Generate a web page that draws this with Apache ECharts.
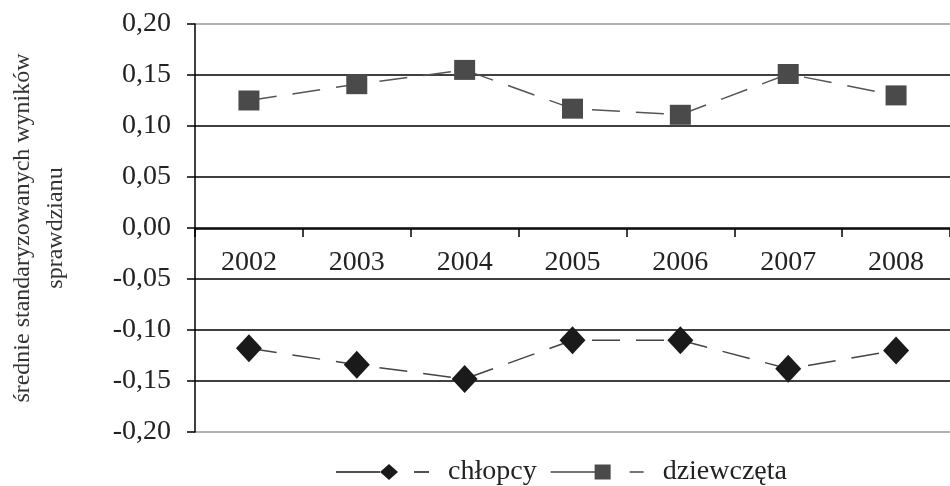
<!DOCTYPE html>
<html>
<head>
<meta charset="utf-8">
<script src="https://cdn.jsdelivr.net/npm/echarts@6/dist/echarts.min.js"></script>
<style>html,body{margin:0;padding:0;background:#fff}#c{width:950px;height:486px}</style>
</head>
<body>
<div id="c"></div>
<script>
const years = ['2002','2003','2004','2005','2006','2007','2008'];
const chlopcy = [-0.118, -0.134, -0.148, -0.110, -0.110, -0.138, -0.120];
const dziewczeta = [0.125, 0.141, 0.155, 0.117, 0.111, 0.151, 0.130];
const seriesNames = ['chłopcy', 'dziewczęta'];
const yTitle = 'średnie standaryzowanych wyników\nsprawdzianu';

const font = '"Liberation Serif", "DejaVu Serif", serif';
const iconDiamond = 'path://M0 7.3H44V8.7H0Z M44 8L53 0L62 8L53 16Z M78 7.3H93V8.7H78Z';
const iconSquare = 'path://M0 7.3H44V8.7H0Z M44 0.5H60V15.5H44Z M79 7.3H93V8.7H79Z';

const chart = echarts.init(document.getElementById('c'));
chart.setOption({
  animation: false,
  backgroundColor: '#fff',
  grid: { left: 195, right: 0, top: 24, bottom: 54, containLabel: false, outerBoundsMode: 'none' },
  legend: {
    top: 453,
    left: 331,
    itemWidth: 93,
    itemHeight: 16,
    itemGap: 14,
    textStyle: { fontFamily: font, fontSize: 28, color: '#222', padding: [0, 0, 0, 14] },
    data: [
      { name: seriesNames[0], icon: iconDiamond, itemStyle: { color: '#1a1a1a' } },
      { name: seriesNames[1], icon: iconSquare, itemStyle: { color: '#4a4a4a' } }
    ]
  },
  xAxis: {
    type: 'category',
    data: years,
    boundaryGap: true,
    position: 'bottom',
    offset: -203,
    axisLine: { onZero: false, lineStyle: { color: '#000', width: 1.5 } },
    axisTick: { show: true, inside: false, length: 8, alignWithLabel: false, lineStyle: { color: '#000', width: 1.5 } },
    axisLabel: { fontFamily: font, fontSize: 28, color: '#222', margin: 20 }
  },
  yAxis: {
    type: 'value',
    min: -0.2, max: 0.2, interval: 0.05,
    name: yTitle,
    nameLocation: 'middle',
    nameRotate: 90,
    nameGap: 123,
    nameTextStyle: { fontFamily: font, fontSize: 24, color: '#333', lineHeight: 33, align: 'center' },
    axisLine: { show: true, lineStyle: { color: '#000', width: 1.5 } },
    axisTick: { show: true, length: 8, lineStyle: { color: '#000', width: 1.5 } },
    axisLabel: {
      fontFamily: font, fontSize: 28, color: '#222', margin: 24,
      formatter: v => v.toFixed(2).replace('.', ',')
    },
    splitLine: { show: true, lineStyle: { width: 1.5, color: ['#999','#000','#000','#000','#000','#000','#000','#000','#999'] } }
  },
  series: [
    {
      name: seriesNames[0], type: 'line', data: chlopcy,
      symbol: 'diamond', symbolSize: [26, 28],
      itemStyle: { color: '#1a1a1a' },
      lineStyle: { color: '#444', width: 1.5, type: [28, 16] }
    },
    {
      name: seriesNames[1], type: 'line', data: dziewczeta,
      symbol: 'rect', symbolSize: [21, 20],
      itemStyle: { color: '#4a4a4a' },
      lineStyle: { color: '#555', width: 1.5, type: [28, 16] }
    }
  ]
});
</script>
</body>
</html>
